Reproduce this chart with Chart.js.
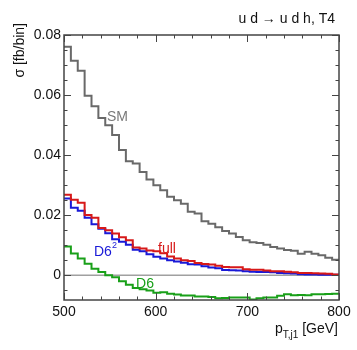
<!DOCTYPE html>
<html>
<head>
<meta charset="utf-8">
<script src="https://cdn.jsdelivr.net/npm/chart.js@4.4.1/dist/chart.umd.min.js"></script>
<style>
  html, body { margin: 0; padding: 0; background: #fff; }
  #wrap { width: 357px; height: 350px; }
</style>
</head>
<body>
<div id="wrap"><canvas id="c"></canvas></div>
<script>
// bin edges in GeV (40 bins, 7.5 GeV each)
const binEdges = [500, 507.5, 515, 522.5, 530, 537.5, 545, 552.5, 560, 567.5,
    575, 582.5, 590, 597.5, 605, 612.5, 620, 627.5, 635, 642.5,
    650, 657.5, 665, 672.5, 680, 687.5, 695, 702.5, 710, 717.5,
    725, 732.5, 740, 747.5, 755, 762.5, 770, 777.5, 785, 792.5, 800];

// sigma per bin [fb/bin]
const smVals = [0.0761, 0.0714, 0.0681, 0.0598, 0.0563, 0.0524, 0.0500, 0.0467, 0.0417, 0.0380,
    0.0372, 0.0344, 0.0319, 0.0300, 0.0283, 0.0262, 0.0250, 0.0238, 0.0212, 0.0206,
    0.0180, 0.0172, 0.0160, 0.0148, 0.0139, 0.0128, 0.0117, 0.0110, 0.0108, 0.0102,
    0.0094, 0.0089, 0.0084, 0.0082, 0.0072, 0.0079, 0.0072, 0.0067, 0.0059, 0.0052];
const fullVals = [0.0268, 0.0252, 0.0242, 0.0201, 0.0192, 0.0158, 0.0150, 0.0139, 0.0127, 0.0117,
    0.0093, 0.0089, 0.0083, 0.0080, 0.0074, 0.0063, 0.0056, 0.0050, 0.0048, 0.0041,
    0.0038, 0.0036, 0.0032, 0.0028, 0.0027, 0.0027, 0.0020, 0.0019, 0.0019, 0.0016,
    0.0014, 0.0014, 0.0012, 0.0010, 0.0008, 0.0008, 0.0007, 0.0006, 0.0005, 0.0003];
const d6sqVals = [0.0256, 0.0225, 0.0215, 0.0192, 0.0170, 0.0155, 0.0140, 0.0120, 0.0112, 0.0102,
    0.0085, 0.0080, 0.0070, 0.0062, 0.0056, 0.0050, 0.0046, 0.0042, 0.0037, 0.0036,
    0.0030, 0.0026, 0.0024, 0.0018, 0.0017, 0.0016, 0.0014, 0.0012, 0.0011, 0.0011,
    0.0010, 0.0008, 0.0007, 0.0006, 0.0004, 0.0003, 0.0003, 0.0002, 0.0002, 0.0002];
const d6Vals = [0.0096, 0.0073, 0.0056, 0.0039, 0.0022, 0.0011, 0.0000, -0.0006, -0.0020, -0.0031,
    -0.0042, -0.0046, -0.0050, -0.0058, -0.0056, -0.0061, -0.0064, -0.0067, -0.0067, -0.0070,
    -0.0070, -0.0072, -0.0076, -0.0075, -0.0074, -0.0074, -0.0074, -0.0080, -0.0076, -0.0074,
    -0.0074, -0.0068, -0.0063, -0.0066, -0.0065, -0.0066, -0.0063, -0.0063, -0.0062, -0.0061];

const xMajor = [500, 600, 700, 800];
const xMinor = [520, 540, 560, 580, 620, 640, 660, 680, 720, 740, 760, 780];
const yMajor = [0, 0.02, 0.04, 0.06, 0.08];
const yLabels = ["0", "0.02", "0.04", "0.06", "0.08"];
const yMinor = [-0.005, 0.005, 0.01, 0.015, 0.025, 0.03, 0.035, 0.045, 0.05, 0.055, 0.065, 0.07, 0.075];

const FONT = "'Liberation Sans', Arial, Helvetica, sans-serif";
const GRAY = "rgb(105,105,105)";
const RED = "rgb(215,25,25)";
const BLUE = "rgb(25,25,215)";
const GREEN = "rgb(25,160,25)";

function hist(vals) {
    return binEdges.map((e, i) => ({x: e, y: vals[Math.min(i, vals.length - 1)]}));
}

function histSet(vals, color, order) {
    return {
        data: hist(vals),
        borderColor: color,
        borderWidth: 2,
        stepped: true,
        pointRadius: 0,
        fill: false,
        order: order
    };
}

// frame, inward ticks and text labels
const decor = {
    id: "decor",
    afterDraw(chart) {
        const ctx = chart.ctx;
        const a = chart.chartArea;
        const xs = chart.scales.x, ys = chart.scales.y;
        ctx.save();
        ctx.strokeStyle = "#444";
        ctx.lineWidth = 1.5;
        ctx.strokeRect(a.left, a.top, a.right - a.left, a.bottom - a.top);

        ctx.lineWidth = 1;
        ctx.beginPath();
        const tick = (vals, len, horiz) => {
            vals.forEach(v => {
                if (horiz) {
                    const px = Math.round(xs.getPixelForValue(v)) + 0.5;
                    ctx.moveTo(px, a.bottom); ctx.lineTo(px, a.bottom - len);
                    ctx.moveTo(px, a.top); ctx.lineTo(px, a.top + len);
                } else {
                    const py = Math.round(ys.getPixelForValue(v)) + 0.5;
                    ctx.moveTo(a.left, py); ctx.lineTo(a.left + len, py);
                    ctx.moveTo(a.right, py); ctx.lineTo(a.right - len, py);
                }
            });
        };
        tick(xMajor, 7, true);
        tick(xMinor, 3.5, true);
        tick(yMajor, 7, false);
        tick(yMinor, 3.5, false);
        ctx.stroke();

        // curve labels
        ctx.font = "14px " + FONT;
        ctx.textBaseline = "middle";
        ctx.textAlign = "left";
        ctx.fillStyle = "rgb(120,120,120)";
        ctx.fillText("SM", 107, 117);
        ctx.textAlign = "center";
        ctx.fillStyle = RED;
        ctx.fillText("full", 167, 249);
        ctx.fillStyle = GREEN;
        ctx.fillText("D6", 145, 284);
        ctx.fillStyle = BLUE;
        ctx.textAlign = "left";
        ctx.fillText("D6", 94, 252);
        ctx.font = "9px " + FONT;
        ctx.fillText("2", 112, 246);

        // process label
        ctx.fillStyle = "#111";
        ctx.font = "14px " + FONT;
        ctx.textAlign = "right";
        ctx.textBaseline = "alphabetic";
        ctx.fillText("u d \u2192 u d h, T4", 335, 23);

        // y axis title
        ctx.save();
        ctx.translate(20, 23);
        ctx.rotate(-Math.PI / 2);
        ctx.textAlign = "right";
        ctx.textBaseline = "middle";
        ctx.fillText("\u03c3 [fb/bin]", 0, 0);
        ctx.restore();

        // x axis title with subscript
        const main1 = "p", sub = "T,j1", main2 = " [GeV]";
        ctx.font = "14px " + FONT;
        const w1 = ctx.measureText(main1).width;
        const w3 = ctx.measureText(main2).width;
        ctx.font = "10px " + FONT;
        const w2 = ctx.measureText(sub).width;
        let x0 = 338 - (w1 + w2 + w3);
        ctx.textAlign = "left";
        ctx.font = "14px " + FONT;
        ctx.fillText(main1, x0, 333);
        ctx.font = "10px " + FONT;
        ctx.fillText(sub, x0 + w1, 338);
        ctx.font = "14px " + FONT;
        ctx.fillText(main2, x0 + w1 + w2, 333);
        ctx.restore();
    }
};

new Chart(document.getElementById("c").getContext("2d"), {
    type: "line",
    data: {
        datasets: [
            histSet(smVals, GRAY, 1),
            histSet(fullVals, RED, 2),
            histSet(d6sqVals, BLUE, 3),
            histSet(d6Vals, GREEN, 4),
            {
                data: [{x: 500, y: 0}, {x: 800, y: 0}],
                borderColor: "rgb(160,160,160)",
                borderWidth: 1.5,
                pointRadius: 0,
                order: 9
            }
        ]
    },
    options: {
        responsive: true,
        maintainAspectRatio: false,
        animation: false,
        layout: {padding: {left: 0, right: 18, top: 35, bottom: 0}},
        plugins: {legend: {display: false}, tooltip: {enabled: false}},
        scales: {
            x: {
                type: "linear",
                min: 500,
                max: 800,
                afterFit: s => { s.height = 50; },
                afterBuildTicks: s => { s.ticks = xMajor.map(v => ({value: v})); },
                grid: {display: false, drawTicks: false},
                border: {display: false},
                ticks: {
                    padding: 4,
                    color: "#111",
                    font: {family: FONT, size: 14},
                    maxRotation: 0,
                    callback: v => String(v)
                }
            },
            y: {
                min: -0.0082,
                max: 0.08,
                afterFit: s => { s.width = 64; },
                afterBuildTicks: s => { s.ticks = yMajor.map(v => ({value: v})); },
                grid: {display: false, drawTicks: false},
                border: {display: false},
                ticks: {
                    padding: 3,
                    color: "#111",
                    font: {family: FONT, size: 14},
                    callback: v => yLabels[yMajor.indexOf(v)]
                }
            }
        }
    },
    plugins: [decor]
});
</script>
</body>
</html>
